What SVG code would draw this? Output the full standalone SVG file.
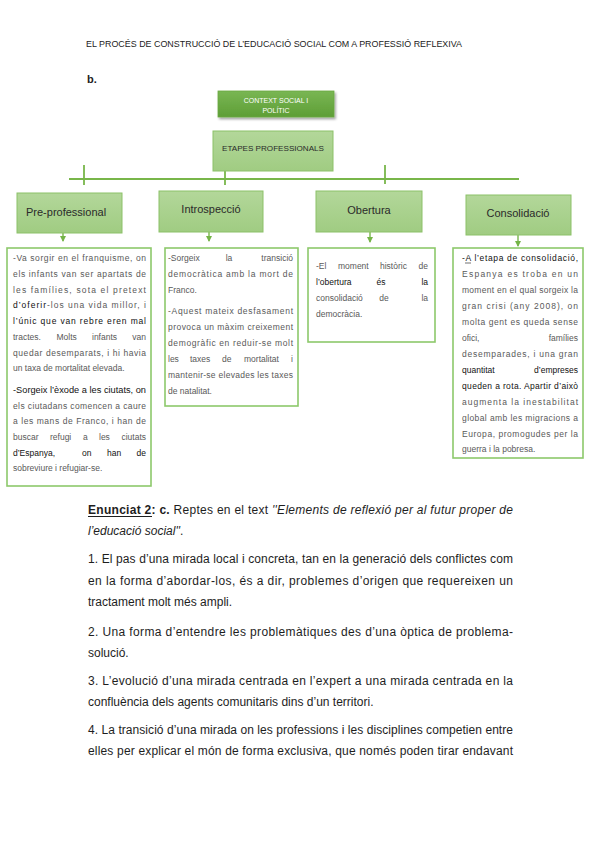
<svg xmlns="http://www.w3.org/2000/svg" width="599" height="848" viewBox="0 0 599 848">
<defs>
<linearGradient id="g" x1="0" y1="0" x2="0" y2="1">
<stop offset="0" stop-color="#b3d79a"/>
<stop offset="1" stop-color="#a0cc82"/>
</linearGradient>
<linearGradient id="gd" x1="0" y1="0" x2="0" y2="1">
<stop offset="0" stop-color="#79b653"/>
<stop offset="1" stop-color="#5e9e36"/>
</linearGradient>
<filter id="sh" x="-10%" y="-20%" width="130%" height="160%">
<feDropShadow dx="1.5" dy="2" stdDeviation="1.2" flood-color="#000" flood-opacity="0.35"/>
</filter>
<marker id="ar" markerUnits="userSpaceOnUse" markerWidth="6" markerHeight="6" refX="3" refY="5" orient="auto-start-reverse" viewBox="0 0 6 6">
<path d="M0,0 L6,0 L3,6 Z" fill="#74b447" transform="rotate(-90 3 3)"/>
</marker>
<marker id="ah" markerUnits="userSpaceOnUse" markerWidth="6" markerHeight="6" refX="5" refY="3" orient="auto" viewBox="0 0 6 6">
<path d="M0,0 L6,3 L0,6 Z" fill="#74b447"/>
</marker>
</defs>
<style>
.b2{fill:url(#g);stroke:#8cc168;stroke-width:1}
.tb{fill:#fff;stroke:#8dc96b;stroke-width:1.6}
.ln{stroke:#78b64a;stroke-width:1.8;fill:none}
.arw{stroke:#78b64a;stroke-width:1.4;fill:none;marker-end:url(#ah)}
.s{font-family:"Liberation Sans",Arial,sans-serif;font-size:8.5px;fill:#595959}
.d{fill:#111}
.lbl{font-family:"Liberation Sans",Arial,sans-serif;font-size:11px;fill:#2a2a2a}
.m{font-family:"Liberation Sans",Arial,sans-serif;font-size:12px;fill:#1e1e1e}
.e{text-anchor:end}
.c{text-anchor:middle}
</style>
<rect width="599" height="848" fill="#fff"/>

<g id="header">
<text x="86" y="47" font-family="'Liberation Sans',Arial,sans-serif" font-size="9" fill="#222" textLength="376" lengthAdjust="spacingAndGlyphs">EL PROCÉS DE CONSTRUCCIÓ DE L’EDUCACIÓ SOCIAL COM A PROFESSIÓ REFLEXIVA</text>
<text x="87" y="83" font-family="'Liberation Sans',Arial,sans-serif" font-size="11" font-weight="bold" fill="#222">b.</text>
</g>

<g id="connectors">
<line class="ln" x1="69" y1="179" x2="519" y2="179"/>
<line class="ln" x1="84" y1="165" x2="84" y2="185"/>
<line class="ln" x1="225" y1="165" x2="225" y2="185"/>
<line class="ln" x1="385" y1="165" x2="385" y2="184"/>
<line class="arw" x1="63" y1="218" x2="63" y2="241"/>
<line class="arw" x1="209" y1="218" x2="209" y2="241"/>
<line class="arw" x1="370" y1="213" x2="370" y2="242"/>
<line class="arw" x1="518" y1="221" x2="518" y2="246"/>
</g>

<g id="context">
<rect x="218" y="91" width="116" height="26" fill="url(#gd)" stroke="#6aa842" stroke-width="0.8" filter="url(#sh)"/>
<text class="c" x="276" y="102.5" font-family="'Liberation Sans',Arial,sans-serif" font-size="7" fill="#fff">CONTEXT SOCIAL I</text>
<text class="c" x="276" y="112.5" font-family="'Liberation Sans',Arial,sans-serif" font-size="7" fill="#fff">POLÍTIC</text>
</g>

<g id="etapes">
<rect class="b2" x="213" y="131" width="120" height="40"/>
<text class="c" x="273" y="151" font-family="'Liberation Sans',Arial,sans-serif" font-size="7.6" fill="#2a2a2a" textLength="102" lengthAdjust="spacingAndGlyphs">ETAPES PROFESSIONALS</text>
</g>

<g id="preprofessional">
<rect class="b2" x="17" y="193" width="105" height="40"/>
<text class="lbl" x="26" y="216">Pre-professional</text>
</g>
<g id="introspeccio">
<rect class="b2" x="159" y="191" width="104" height="41"/>
<text class="lbl c" x="211" y="213">Introspecció</text>
</g>
<g id="obertura">
<rect class="b2" x="316" y="191" width="106" height="41"/>
<text class="lbl c" x="369" y="214">Obertura</text>
</g>
<g id="consolidacio">
<rect class="b2" x="466" y="195" width="105" height="40"/>
<text class="lbl c" x="518" y="217">Consolidació</text>
</g>

<g id="text-preprofessional">
<rect class="tb" x="7" y="248" width="144" height="238"/>
<text class="s" x="13" y="261" textLength="133" lengthAdjust="spacing">-Va sorgir en el franquisme, on</text>
<text class="s" x="13" y="277" textLength="133" lengthAdjust="spacing">els infants van ser apartats de</text>
<text class="s" x="13" y="292.5" textLength="133" lengthAdjust="spacing">les famílies, sota el pretext</text>
<text class="s" x="13" y="308" textLength="133" lengthAdjust="spacing"><tspan class="d">d’oferir</tspan>-los una vida millor, i</text>
<text class="s d" x="13" y="324" textLength="133" lengthAdjust="spacing">l’únic que van rebre eren mal</text>
<text class="s" y="340"><tspan x="13">tractes.</tspan><tspan x="56.5">Molts</tspan><tspan x="92">infants</tspan></text>
<text class="s e" x="146" y="340">van</text>
<text class="s" x="13" y="355.5" textLength="133" lengthAdjust="spacing">quedar desemparats, i hi havia</text>
<text class="s" x="13" y="371">un taxa de mortalitat elevada.</text>
<text class="s d" x="13" y="393" textLength="133" lengthAdjust="spacingAndGlyphs">-Sorgeix l’èxode a les ciutats, on</text>
<text class="s" x="13" y="408.5" textLength="133" lengthAdjust="spacing">els ciutadans comencen a caure</text>
<text class="s" x="13" y="424" textLength="133" lengthAdjust="spacing">a les mans de Franco, i han de</text>
<text class="s" y="440"><tspan x="13">buscar</tspan><tspan x="50">refugi</tspan><tspan x="83">a</tspan><tspan x="99">les</tspan></text>
<text class="s e" x="146" y="440">ciutats</text>
<text class="s d" y="455.5"><tspan x="13">d’Espanya,</tspan><tspan x="82">on</tspan><tspan x="107">han</tspan></text>
<text class="s d e" x="146" y="455.5">de</text>
<text class="s" x="13" y="471">sobreviure i refugiar-se.</text>
</g>

<g id="text-introspeccio">
<rect class="tb" x="165" y="248" width="133" height="158"/>
<text class="s" x="168" y="261">-Sorgeix</text>
<text class="s c" x="229" y="261">la</text>
<text class="s e" x="293" y="261">transició</text>
<text class="s" x="168" y="277" textLength="125" lengthAdjust="spacing">democràtica amb la mort de</text>
<text class="s" x="168" y="293">Franco.</text>
<text class="s" x="168" y="314" textLength="125" lengthAdjust="spacing">-Aquest mateix desfasament</text>
<text class="s" x="168" y="330" textLength="125" lengthAdjust="spacing">provoca un màxim creixement</text>
<text class="s" x="168" y="346" textLength="125" lengthAdjust="spacing">demogràfic en reduir-se molt</text>
<text class="s" y="362"><tspan x="168">les</tspan><tspan x="190">taxes</tspan><tspan x="222">de</tspan><tspan x="244">mortalitat</tspan></text>
<text class="s e" x="293" y="362">i</text>
<text class="s" x="168" y="378" textLength="125" lengthAdjust="spacing">mantenir-se elevades les taxes</text>
<text class="s" x="168" y="394">de natalitat.</text>
</g>

<g id="text-obertura">
<rect class="tb" x="308" y="248" width="127" height="94"/>
<text class="s" y="269"><tspan x="316">-El</tspan><tspan x="338">moment</tspan><tspan x="380">històric</tspan></text>
<text class="s e" x="428" y="269">de</text>
<text class="s d" x="316" y="285">l’obertura</text>
<text class="s d c" x="381" y="285">és</text>
<text class="s d e" x="428" y="285">la</text>
<text class="s" x="316" y="301">consolidació</text>
<text class="s c" x="384" y="301">de</text>
<text class="s e" x="428" y="301">la</text>
<text class="s" x="316" y="316.5">democràcia.</text>
</g>

<g id="text-consolidacio">
<rect class="tb" x="453" y="248" width="130" height="210"/>
<text class="s d" x="462" y="261" textLength="116" lengthAdjust="spacing">-A l’etapa de consolidació,</text>
<line x1="465" y1="263" x2="471" y2="263" stroke="#111" stroke-width="0.6"/>
<text class="s" x="462" y="277" textLength="116" lengthAdjust="spacing">Espanya es troba en un</text>
<text class="s" x="462" y="293" textLength="116" lengthAdjust="spacing">moment en el qual sorgeix la</text>
<text class="s" x="462" y="309" textLength="116" lengthAdjust="spacing">gran crisi (any 2008), on</text>
<text class="s" x="462" y="325" textLength="116" lengthAdjust="spacing">molta gent es queda sense</text>
<text class="s" x="462" y="341">ofici,</text>
<text class="s e" x="578" y="341">famílies</text>
<text class="s" x="462" y="357" textLength="116" lengthAdjust="spacing">desemparades, i una gran</text>
<text class="s d" x="462" y="373">quantitat</text>
<text class="s d e" x="578" y="373">d’empreses</text>
<text class="s d" x="462" y="389" textLength="116" lengthAdjust="spacing">queden a rota. Apartir d’això</text>
<text class="s" x="462" y="405" textLength="116" lengthAdjust="spacing">augmenta la inestabilitat</text>
<text class="s" x="462" y="421" textLength="116" lengthAdjust="spacing">global amb les migracions a</text>
<text class="s" x="462" y="436.5" textLength="116" lengthAdjust="spacing">Europa, promogudes per la</text>
<text class="s" x="462" y="452">guerra i la pobresa.</text>
</g>

<g id="enunciat">
<text class="m" x="88" y="514" textLength="425" lengthAdjust="spacing"><tspan font-weight="bold">Enunciat 2:</tspan> <tspan font-weight="bold">c.</tspan> Reptes en el text <tspan font-style="italic">''Elements de reflexió per al futur proper de</tspan></text>
<line x1="88" y1="516.5" x2="152" y2="516.5" stroke="#1e1e1e" stroke-width="1"/>
<text class="m" x="88" y="535"><tspan font-style="italic">l’educació social''</tspan>.</text>
<text class="m" x="88" y="563" textLength="425" lengthAdjust="spacing">1. El pas d’una mirada local i concreta, tan en la generació dels conflictes com</text>
<text class="m" x="88" y="585" textLength="425" lengthAdjust="spacing">en la forma d’abordar-los, és a dir, problemes d’origen que requereixen un</text>
<text class="m" x="88" y="606">tractament molt més ampli.</text>
<text class="m" x="88" y="636" textLength="425" lengthAdjust="spacing">2. Una forma d’entendre les problemàtiques des d’una òptica de problema-</text>
<text class="m" x="88" y="657">solució.</text>
<text class="m" x="88" y="685" textLength="425" lengthAdjust="spacing">3. L’evolució d’una mirada centrada en l’expert a una mirada centrada en la</text>
<text class="m" x="88" y="706">confluència dels agents comunitaris dins d’un territori.</text>
<text class="m" x="88" y="734" textLength="425" lengthAdjust="spacing">4. La transició d’una mirada on les professions i les disciplines competien entre</text>
<text class="m" x="88" y="755" textLength="425" lengthAdjust="spacing">elles per explicar el món de forma exclusiva, que només poden tirar endavant</text>
</g>
</svg>
